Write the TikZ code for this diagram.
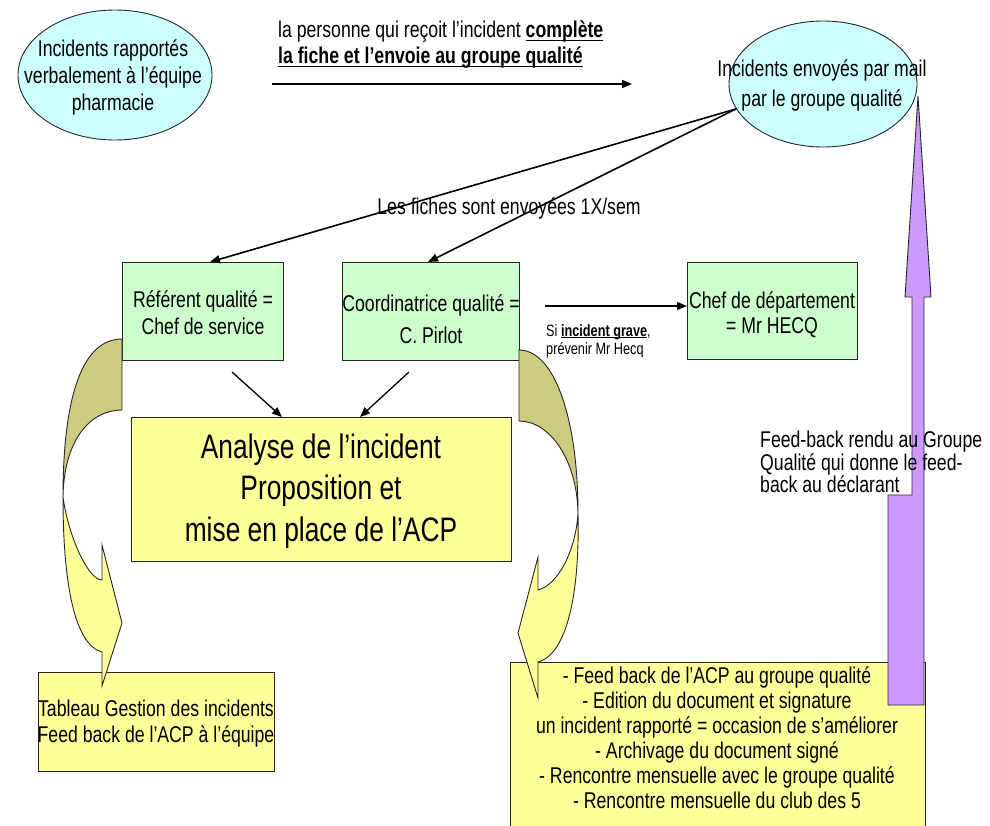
\documentclass[tikz,border=0pt]{standalone}
\usepackage{fontspec}
\setmainfont{Liberation Sans}[FakeStretch=0.775]
\newcommand\myul[3]{\setbox0\hbox{#3}\rlap{\rule[-#1]{\wd0}{#2}}\box0}
\usetikzlibrary{shapes.geometric,arrows.meta}
\definecolor{cyanf}{HTML}{CCFFFF}
\definecolor{greenf}{HTML}{CCFFCC}
\definecolor{yellowf}{HTML}{FFFF99}
\definecolor{olivef}{HTML}{CCCC80}
\definecolor{purplef}{HTML}{CC99FF}
\newcommand\fsz[2]{\fontsize{#1}{#2}\selectfont}
\begin{document}
\begin{tikzpicture}[x=1pt,y=-1pt,
  shp/.style={draw=black!85, line width=0.9pt},
  box/.style={shp, rectangle, inner sep=0pt, anchor=north west},
  conn/.style={line width=1.6pt, -{Triangle[length=10pt,width=8pt]}},
  txt/.style={inner sep=0pt, align=center, font=\fsz{22.8}{27}}
]
\useasboundingbox (0,0) rectangle (990,825);

% ellipses
\node[shp, ellipse, fill=cyanf, minimum width=194pt, minimum height=130pt, inner sep=0pt] (e1) at (115,75) {};
\node[shp, ellipse, fill=cyanf, minimum width=188pt, minimum height=126pt, inner sep=0pt] (e2) at (823,84) {};

% boxes
\node[box, fill=greenf, minimum width=161pt, minimum height=98pt] (ref) at (122,262) {};
\node[box, fill=greenf, minimum width=177pt, minimum height=98pt] (coord) at (342,262) {};
\node[box, fill=greenf, minimum width=170pt, minimum height=97pt] (chef) at (687,262) {};
\node[box, fill=yellowf, minimum width=380pt, minimum height=144pt] (ana) at (131,417) {};
\node[box, fill=yellowf, minimum width=236pt, minimum height=99pt] (tab) at (38,672) {};
\node[box, fill=yellowf, minimum width=415pt, minimum height=190pt] (fb) at (510,662) {};

% left curved arrow
\filldraw[shp, fill=olivef] (122,339) .. controls (76,339) and (63,415) .. (63,497)
   .. controls (64,440) and (90,410) .. (122,410) -- cycle;
\filldraw[shp, fill=yellowf] (63,497) .. controls (63,585) and (75,645) .. (102,652)
   -- (102,686) -- (122,623) -- (102,545) -- (102,580)
   .. controls (88,580) and (68,535) .. (63,497) -- cycle;

% right curved arrow
\filldraw[shp, fill=olivef] (519,350) .. controls (555,350) and (578,420) .. (578,513)
   .. controls (577,460) and (550,421) .. (519,421) -- cycle;
\filldraw[shp, fill=yellowf] (578,513) .. controls (580,600) and (565,655) .. (538,662)
   -- (538,698) -- (518,633) -- (538,557) -- (538,590)
   .. controls (558,585) and (576,550) .. (578,513) -- cycle;

% purple arrow
\filldraw[shp, fill=purplef] (888,705) -- (888,495) -- (912,495) -- (912,297) -- (905,297)
   -- (918,96) -- (931,297) -- (924,297) -- (924,705) -- cycle;

% connectors
\coordinate (topa) at (272,84);
\coordinate (topb) at (632,84);
\draw[conn, line width=1.5pt] (topa) -- (topb);
\coordinate (refin) at (210,262);
\coordinate (coordin) at (428,262);
\draw[conn] (e2.196) -- (refin |- ref.north);
\draw[conn] (e2.196) -- (coordin |- coord.north);
\coordinate (ra) at (232,372);
\coordinate (rb) at (282,417);
\coordinate (ca) at (409,372);
\coordinate (cb) at (360,417);
\draw[conn, line width=1.3pt] (ra) -- (rb |- ana.north);
\draw[conn, line width=1.3pt] (ca) -- (cb |- ana.north);
\coordinate (gs) at (545,306);
\draw[conn, line width=1.5pt] (gs) -- (gs -| chef.west);

% texts
\node[txt] (t1) at (113,77) {Incidents rapportés\\verbalement à l’équipe\\pharmacie};
\node[txt, align=left, anchor=west, font=\fsz{22.8}{26}] (t0) at (278,45)
  {la personne qui reçoit l’incident \myul{3pt}{1.3pt}{\textbf{complète}}\\\myul{3pt}{1.3pt}{\textbf{la fiche et l’envoie au groupe qualité}}};
\node[txt, font=\fsz{22.8}{30}] (t2) at (822,85) {Incidents envoyés par mail\\par le groupe qualité};
\node[txt] (tf) at (509,208) {Les fiches sont envoyées 1X/sem};
\node[txt] (tref) at (203,313) {Référent qualité =\\Chef de service};
\node[txt, font=\fsz{22.8}{32}] (tcoord) at (431,319) {Coordinatrice qualité =\\C. Pirlot};
\node[txt, font=\fsz{22.8}{25}] (tchef) at (772,315) {Chef de département\\= Mr HECQ};
\node[txt, align=left, anchor=west, font=\fsz{16.4}{18}] (tgrave) at (546,341)
  {Si \myul{2pt}{1pt}{\textbf{incident grave}},\\prévenir Mr Hecq};
\node[txt, font=\fsz{34}{41.5}] (tana) at (321,491) {Analyse de l’incident\\Proposition et\\mise en place de l’ACP};
\node[txt, font=\fsz{22.8}{26}] (ttab) at (156,724) {Tableau Gestion des incidents\\Feed back de l’ACP à l’équipe};
\node[txt, font=\fsz{22.8}{25}] (tfb) at (717,738) {- Feed back de l’ACP au groupe qualité\\- Edition du document et signature\\un incident rapporté = occasion de s’améliorer\\- Archivage du document signé\\- Rencontre mensuelle avec le groupe qualité\\- Rencontre mensuelle du club des 5};
\node[txt, align=left, anchor=west, font=\fsz{22.8}{22.5}] (tpur) at (760,462)
  {Feed-back rendu au Groupe\\Qualité qui donne le feed-\\back au déclarant};
\end{tikzpicture}
\end{document}
